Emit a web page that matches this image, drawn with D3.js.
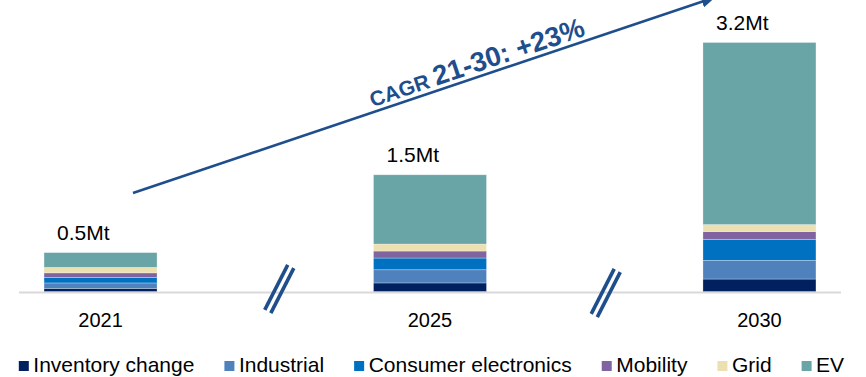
<!DOCTYPE html>
<html>
<head>
<meta charset="utf-8">
<script src="https://cdn.jsdelivr.net/npm/d3@7"></script>
<style>
  body { margin: 0; background: #fff; }
  svg { display: block; }
  text { font-family: "Liberation Sans", Arial, sans-serif; fill: #000; }
</style>
</head>
<body>
<svg id="chart" width="866" height="377"></svg>
<script>
// Demand by segment (Mt), stacked per year
const years = ["2021", "2025", "2030"];
const segments = ["Inventory change", "Industrial", "Consumer electronics", "Mobility", "Grid", "EV"];
const inventoryChange     = [0.04, 0.11, 0.16];
const industrial          = [0.07, 0.17, 0.24];
const consumerElectronics = [0.07, 0.15, 0.27];
const mobility            = [0.06, 0.09, 0.10];
const grid                = [0.07, 0.09, 0.09];
const ev                  = [0.19, 0.89, 2.34];
const totalLabels = ["0.5Mt", "1.5Mt", "3.2Mt"];
const cagrLabel = ["CAGR ", "21-30: +23%"];
const segmentColors = ["#002060", "#4f81bd", "#0070c0", "#8064a2", "#ece0b0", "#69a5a6"];

const seriesBySegment = [inventoryChange, industrial, consumerElectronics, mobility, grid, ev];
const rows = years.map((yr, i) => {
  const r = { year: yr };
  segments.forEach((s, k) => { r[s] = seriesBySegment[k][i]; });
  return r;
});
const totals = rows.map(r => d3.sum(segments, s => r[s]));

const svg = d3.select("#chart");
const blue = "#1f4e8c";

const x = d3.scaleBand()
  .domain(years)
  .range([19, 841])
  .paddingInner(0.657)
  .paddingOuter(0.076);

const y = d3.scaleLinear()
  .domain([0, d3.max(totals)])
  .range([291.5, 42.5]);

const color = d3.scaleOrdinal().domain(segments).range(segmentColors);

// Baseline
svg.append("line")
  .attr("x1", 19).attr("x2", 841)
  .attr("y1", 292.5).attr("y2", 292.5)
  .attr("stroke", "#d9d9d9").attr("stroke-width", 2);

// Stacked bars
const stacked = d3.stack().keys(segments)(rows);
svg.append("g").selectAll("g")
  .data(stacked)
  .join("g")
  .attr("fill", d => color(d.key))
  .selectAll("rect")
  .data(d => d)
  .join("rect")
  .attr("x", d => x(d.data.year))
  .attr("width", x.bandwidth())
  .attr("y", d => y(d[1]))
  .attr("height", d => y(d[0]) - y(d[1]))
  .attr("stroke", "rgba(255,255,255,0.35)")
  .attr("stroke-width", 0.8);

// Total labels
svg.append("g").selectAll("text")
  .data(years)
  .join("text")
  .attr("x", d => x(d) + 13)
  .attr("y", (d, i) => y(totals[i]) - 13)
  .attr("font-size", 21)
  .text((d, i) => totalLabels[i]);

// Year labels
const xAxis = svg.append("g")
  .attr("transform", "translate(0,292.5)")
  .call(d3.axisBottom(x).tickSize(0).tickPadding(0));
xAxis.select(".domain").remove();
xAxis.selectAll("text")
  .attr("y", 34)
  .attr("dy", null)
  .attr("font-size", 20)
  .attr("font-family", "\"Liberation Sans\", Arial, sans-serif")
  .attr("fill", "#000");

// Axis break marks between years
const centers = years.map(yr => x(yr) + x.bandwidth() / 2);
const breaks = [ (centers[0] + centers[1]) / 2 + 14, (centers[1] + centers[2]) / 2 + 11 ];
const bg = svg.append("g");
breaks.forEach((bx, i) => {
  const cy = 289 + i * 4;
  [-3.4, 3.4].forEach(off => {
    const cx = bx + off * 0.89, cyy = cy + off * 0.46;
    bg.append("line")
      .attr("x1", cx - 11.5).attr("y1", cyy + 22.5)
      .attr("x2", cx + 11.5).attr("y2", cyy - 22.5)
      .attr("stroke", blue).attr("stroke-width", 3.6);
  });
});

// Growth arrow
const defs = svg.append("defs");
defs.append("marker")
  .attr("id", "head")
  .attr("markerUnits", "userSpaceOnUse")
  .attr("viewBox", "0 0 14 12")
  .attr("refX", 2).attr("refY", 6)
  .attr("markerWidth", 14).attr("markerHeight", 12)
  .attr("orient", "auto")
  .append("path")
  .attr("d", "M0,0 L14,6 L0,12 Z")
  .attr("fill", blue);

const a0 = [133, 193], a1 = [704, 1];
svg.append("line")
  .attr("x1", a0[0]).attr("y1", a0[1])
  .attr("x2", a1[0]).attr("y2", a1[1])
  .attr("stroke", blue).attr("stroke-width", 2.6)
  .attr("marker-end", "url(#head)");

const ang = Math.atan2(a1[1] - a0[1], a1[0] - a0[0]);
const tx = 374;
const ty = a0[1] + (tx - a0[0]) * Math.tan(ang);
const nOff = 5;
const px = tx + Math.sin(ang) * nOff;
const py = ty - Math.cos(ang) * nOff;
const cagr = svg.append("text")
  .attr("transform", `translate(${px},${py}) rotate(${ang * 180 / Math.PI})`)
  .attr("font-weight", "bold")
  .style("fill", blue);
cagr.append("tspan").attr("font-size", 21).text(cagrLabel[0]);
cagr.append("tspan").attr("font-size", 27.5).text(cagrLabel[1]);

// Legend
const legend = svg.append("g");
let lx = 18.8;
segments.forEach((s, k) => {
  legend.append("rect")
    .attr("x", lx).attr("y", 361)
    .attr("width", 10).attr("height", 10)
    .attr("fill", color(s));
  const t = legend.append("text")
    .attr("x", lx + 14.5).attr("y", 372)
    .attr("font-size", 21)
    .text(s);
  lx = lx + 14.5 + t.node().getComputedTextLength() + 30;
});
</script>
</body>
</html>
